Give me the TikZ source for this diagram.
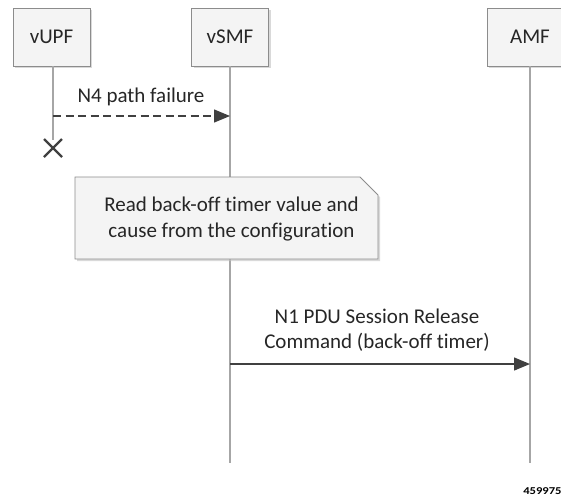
\documentclass[tikz,border=0pt]{standalone}
\usepackage{fontspec}
\setmainfont{Carlito}[Ligatures={NoCommon}]
\usetikzlibrary{arrows.meta,shadows,calc}
\definecolor{lifegray}{HTML}{A6A6A6}
\definecolor{boxborder}{HTML}{8C8C8C}
\definecolor{boxfill}{HTML}{F4F4F4}
\definecolor{arrowgray}{HTML}{404040}
\definecolor{txt}{HTML}{262626}
\tikzset{
  actor/.style={draw=boxborder, fill=boxfill, line width=0.8pt, minimum height=58pt,
    drop shadow={shadow xshift=2pt, shadow yshift=-2pt, fill=black!25, opacity=0.6},
    font=\fontsize{21}{24}\selectfont, text=txt, inner sep=0pt},
  lifeline/.style={draw=lifegray, line width=1.5pt},
  msg/.style={draw=arrowgray, line width=1.3pt, -{Triangle[length=16pt,width=13pt]}},
  lbl/.style={font=\fontsize{21}{25.5}\selectfont, text=txt, align=center},
}
\begin{document}
\begin{tikzpicture}[x=1pt,y=-1pt]
\useasboundingbox (0,0) rectangle (561,499);
\begin{scope}
\clip (0,0) rectangle (561,499);
% actors
\node[actor, minimum width=77pt] (vupf) at (51.5,37) {vUPF};
\node[actor, minimum width=77pt] (vsmf) at (230,37) {vSMF};
\node[actor, minimum width=88pt, anchor=west] (amf) at (487,37) {};
\node[font=\fontsize{21}{24}\selectfont, text=txt] (amft) at (530,37) {AMF};
% figure number
\node[font=\fontsize{10.5}{11}\selectfont\bfseries, text=black, anchor=west, inner sep=0pt, xscale=1.2] (fig) at (523,491.5) {459975};
\end{scope}
% lifeline ends
\coordinate (uend) at (53,140);
\coordinate (send) at (230,463);
\coordinate (aend) at (530,463);
\coordinate (sx) at (230,66);
\coordinate (ax) at (530,66);
\coordinate (ux) at (53,66);
\draw[lifeline] (ux) -- (uend);
\draw[lifeline] (sx) -- (send);
\draw[lifeline] (ax) -- (aend);
% N4 path failure
\coordinate (m1s) at (53,116);
\coordinate (m1e) at (230,116);
\draw[msg, dashed, dash pattern=on 8pt off 4.5pt] (m1s) -- (m1e);
\node[lbl] (m1l) at (141,97) {N4 path failure};
% cross
\coordinate (xc) at (53,148);
\draw[arrowgray, line width=2.4pt] ($(xc)+(-9,-9)$) -- ($(xc)+(9,9)$);
\draw[arrowgray, line width=2.4pt] ($(xc)+(-9,9)$) -- ($(xc)+(9,-9)$);
% note
\fill[black!25, opacity=0.6] (77,179) -- (362,179) -- (380,197) -- (380,261) -- (77,261) -- cycle;
\draw[boxborder, fill=boxfill, line width=0.8pt] (75,177) -- (360,177) -- (378,195) -- (378,259) -- (75,259) -- cycle;
\node[lbl] (note) at (231.5,219) {Read back-off timer value and\\cause from the configuration};
% N1 message
\coordinate (m2s) at (230,364);
\coordinate (m2e) at (530,364);
\draw[msg] (m2s) -- (m2e);
\node[lbl] (m2l) at (377,330) {N1 PDU Session Release\\Command (back-off timer)};
\end{tikzpicture}
\end{document}
